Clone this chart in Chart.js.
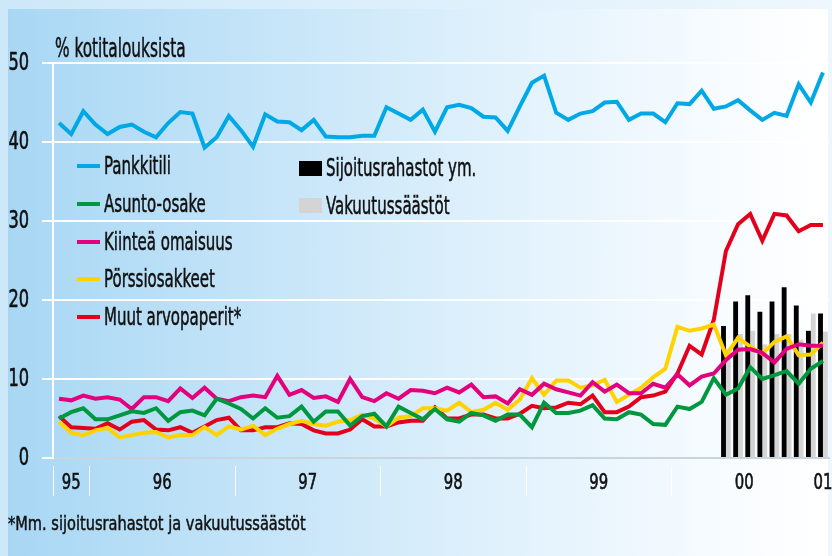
<!DOCTYPE html>
<html lang="fi">
<head>
<meta charset="utf-8">
<title>Kotitalouksien säästämismuodot</title>
<script src="https://cdn.jsdelivr.net/npm/chart.js@4.4.1/dist/chart.umd.min.js"></script>
<style>
  html, body { margin: 0; padding: 0; }
  body {
    width: 832px; height: 556px; position: relative; overflow: hidden;
    background: linear-gradient(to right, #cde8f9, #eef7fd);
    font-family: 'Liberation Sans Narrow', 'DejaVu Sans Condensed', 'Arial Narrow', sans-serif;
    color: #111;
  }
  #panel {
    position: absolute; left: 8px; top: 9px; right: 4px; bottom: 0;
    background: linear-gradient(to right, #a8d7f4 0%, #c4e4f8 30%, #e0f1fc 60%, #f8fcff 88%, #ffffff 100%);
  }
  #chart { position: absolute; left: 0; top: 0; }
  .txt { position: absolute; white-space: nowrap; transform-origin: 0 50%; -webkit-text-stroke: 0.5px #111; }
  #title { left: 55px; top: 33px; font-size: 26px; transform: scaleX(0.655); }
  #note { left: 8px; top: 511px; font-size: 20px; transform: scaleX(0.81); }
  .item { position: absolute; height: 26px; display: flex; align-items: center; white-space: nowrap; }
  .sw { display: inline-block; }
  .lab { display: inline-block; font-size: 24px; transform: scaleX(0.695); transform-origin: 0 50%; -webkit-text-stroke: 0.5px #111; }
</style>
</head>
<body>
<div id="panel"></div>
<canvas id="chart" width="832" height="556"></canvas>
<div id="title" class="txt">% kotitalouksista</div>
<div id="legend"></div>
<div id="note" class="txt">*Mm. sijoitusrahastot ja vakuutussäästöt</div>
<script>
// monthly observations, Oct 1995 - Jan 2001
const months = [];
for (let k = 0; k < 64; k++) {
  const m = 9 + k;
  months.push((1995 + Math.floor(m / 12)) + '-' + String(m % 12 + 1).padStart(2, '0'));
}
const yearLabels = ['95', '96', '97', '98', '99', '00', '01'];
const yTicks = [0, 10, 20, 30, 40, 50];

const pankkitili = [42.4, 41.0, 43.9, 42.2, 41.0, 41.9, 42.2, 41.3, 40.6, 42.4,
  43.8, 43.6, 39.3, 40.6, 43.3, 41.5, 39.4, 43.5, 42.6, 42.5,
  41.5, 42.8, 40.7, 40.6, 40.6, 40.8, 40.8, 44.4, 43.6, 42.8,
  44.1, 41.3, 44.4, 44.7, 44.3, 43.2, 43.1, 41.4, 44.5, 47.5,
  48.4, 43.7, 42.8, 43.6, 43.9, 45.0, 45.1, 42.8, 43.6, 43.6,
  42.5, 44.9, 44.8, 46.5, 44.2, 44.5, 45.3, 44.0, 42.8, 43.7,
  43.3, 47.3, 45.0, 48.8];
const asuntoOsake = [5.0, 5.8, 6.3, 4.9, 4.9, 5.4, 5.9, 5.7, 6.3, 4.7,
  5.8, 6.0, 5.4, 7.5, 6.9, 6.2, 5.0, 6.3, 5.1, 5.3,
  6.5, 4.6, 5.9, 5.9, 4.1, 5.3, 5.6, 4.0, 6.5, 5.7,
  4.9, 6.2, 4.9, 4.6, 5.7, 5.4, 4.7, 5.5, 5.5, 3.9,
  7.0, 5.7, 5.7, 6.0, 6.7, 5.0, 4.9, 5.8, 5.5, 4.3,
  4.2, 6.5, 6.2, 7.1, 10.1, 8.0, 8.8, 11.5, 10.0, 10.5,
  11.0, 9.4, 11.3, 12.3];
const kiinteaOmaisuus = [7.5, 7.3, 7.9, 7.5, 7.7, 7.4, 6.2, 7.7, 7.7, 7.2,
  8.8, 7.6, 8.9, 7.5, 7.2, 7.7, 7.9, 7.7, 10.4, 8.0,
  8.6, 7.6, 7.8, 7.1, 10.0, 7.7, 7.2, 8.2, 7.5, 8.6,
  8.5, 8.2, 8.9, 8.3, 9.3, 7.7, 7.8, 6.9, 8.7, 8.0,
  9.4, 8.7, 8.3, 7.9, 9.6, 8.4, 9.3, 8.2, 8.2, 9.4,
  8.9, 10.6, 9.2, 10.3, 10.7, 12.4, 13.7, 13.8, 13.3, 12.1,
  13.8, 14.4, 14.2, 14.2];
const porssiosakkeet = [4.6, 3.2, 2.9, 3.5, 3.8, 2.6, 2.9, 3.2, 3.3, 2.6,
  2.9, 2.9, 3.9, 2.9, 4.0, 3.6, 4.1, 2.9, 3.7, 4.3,
  4.7, 4.3, 4.1, 4.6, 4.8, 5.5, 5.0, 4.0, 5.1, 5.3,
  6.3, 6.3, 6.0, 7.0, 5.8, 6.1, 7.0, 6.1, 7.4, 10.1,
  8.0, 9.8, 9.8, 8.9, 9.2, 9.9, 7.1, 8.0, 8.9, 10.2,
  11.3, 16.6, 16.1, 16.4, 16.9, 13.0, 15.2, 14.1, 13.2, 14.7,
  15.4, 13.0, 13.1, 14.6];
const muutArvopaperit = [5.3, 3.9, 3.8, 3.7, 4.4, 3.6, 4.6, 4.8, 3.6, 3.5,
  3.9, 3.2, 4.0, 4.8, 5.1, 3.5, 3.5, 3.9, 3.9, 4.4,
  4.3, 3.5, 3.1, 3.1, 3.6, 4.9, 4.0, 4.0, 4.5, 4.7,
  4.7, 6.4, 5.0, 5.0, 5.5, 5.5, 5.0, 5.0, 5.6, 6.6,
  6.3, 6.4, 7.0, 6.8, 7.9, 5.8, 5.8, 6.5, 7.7, 7.9,
  8.4, 10.7, 14.2, 13.1, 17.5, 26.2, 29.6, 30.9, 27.5, 30.9,
  30.7, 28.7, 29.5, 29.5];

// bars start May 2000
const barStart = '2000-05';
const sijoitusrahastot = [16.7, 19.8, 20.6, 18.5, 19.8, 21.6, 19.3, 16.1, 18.3];
const vakuutussaastot = [13.8, 15.7, 16.1, 14.4, 15.7, 15.7, 15.0, 18.3, 16.0];

const FONT = "'Liberation Sans Narrow', 'DejaVu Sans Condensed', 'Arial Narrow', sans-serif";
const first = months.indexOf(barStart);
const padBars = arr => months.map((m, i) => (i < first ? null : arr[i - first]));

function lineSet(label, data, color) {
  return { type: 'line', label, data, borderColor: color, backgroundColor: color,
    borderWidth: 4, pointRadius: 0, tension: 0, borderJoinStyle: 'miter', order: 1 };
}
function barSet(label, data, color) {
  return { type: 'bar', label, data: padBars(data), backgroundColor: color,
    barPercentage: 1, categoryPercentage: 0.8, order: 5 };
}

// narrow, slightly heavy text like the printed original
function condensedText(c, txt, x, y, size, align) {
  c.save();
  c.translate(x, y);
  c.scale(0.75, 1);
  c.fillStyle = '#111';
  c.strokeStyle = '#111';
  c.lineWidth = 0.6;
  c.font = size + 'px ' + FONT;
  c.textAlign = align;
  c.textBaseline = 'middle';
  c.fillText(txt, 0, 0);
  c.strokeText(txt, 0, 0);
  c.restore();
}

// y labels, year separators and year names
const axisText = {
  id: 'axisText',
  afterDraw(chart) {
    const x = chart.scales.x, y = chart.scales.y, c = chart.ctx, top = chart.chartArea.bottom;
    yTicks.forEach(v => condensedText(c, String(v), 29, y.getPixelForValue(v) + 1, 24, 'right'));
    const half = (x.getPixelForValue(1) - x.getPixelForValue(0)) / 2;
    c.save();
    c.strokeStyle = '#ffffff';
    c.lineWidth = 1;
    yearLabels.forEach(yl => {
      const idx = months.map((m, i) => (m.slice(2, 4) === yl ? i : -1)).filter(i => i >= 0);
      const x0 = x.getPixelForValue(idx[0]) - half;
      const x1 = x.getPixelForValue(idx[idx.length - 1]) + half;
      c.beginPath();
      c.moveTo(Math.round(x0) + 0.5, top + 8);
      c.lineTo(Math.round(x0) + 0.5, top + 38);
      c.stroke();
      condensedText(c, yl, (x0 + x1) / 2, top + 25, 22, 'center');
    });
    c.restore();
  }
};

const chart = new Chart(document.getElementById('chart'), {
  type: 'line',
  data: {
    labels: months,
    datasets: [
      lineSet('Pankkitili', pankkitili, '#00a8e6'),
      lineSet('Asunto-osake', asuntoOsake, '#00983f'),
      lineSet('Kiinteä omaisuus', kiinteaOmaisuus, '#e4007d'),
      lineSet('Pörssiosakkeet', porssiosakkeet, '#ffd200'),
      lineSet('Muut arvopaperit*', muutArvopaperit, '#e3001b'),
      barSet('Sijoitusrahastot ym.', sijoitusrahastot, '#000000'),
      barSet('Vakuutussäästöt', vakuutussaastot, '#d4d4d4')
    ]
  },
  options: {
    responsive: false,
    animation: false,
    events: [],
    layout: { padding: { left: 0, right: 3, top: 63, bottom: 58 } },
    plugins: { legend: { display: false }, tooltip: { enabled: false } },
    scales: {
      x: {
        offset: true,
        ticks: { display: false },
        grid: { display: false },
        border: { color: '#c8d5de', width: 2 },
        afterFit: s => { s.height = 40; }
      },
      y: {
        min: 0, max: 50,
        afterBuildTicks: s => { s.ticks = yTicks.map(v => ({ value: v })); },
        ticks: { display: false },
        grid: { color: '#ffffff', lineWidth: 2, tickLength: 11 },
        border: { color: '#ffffff', width: 2 },
        afterFit: s => { s.width = 53; }
      }
    }
  },
  plugins: [axisText]
});

// legend in two columns, built from the datasets
const legend = document.getElementById('legend');
let lineRow = 0, barRow = 0;
chart.data.datasets.forEach(ds => {
  const isBar = ds.type === 'bar';
  const row = isBar ? barRow++ : lineRow++;
  const item = document.createElement('div');
  item.className = 'item';
  item.style.left = (isBar ? 299 : 77) + 'px';
  item.style.top = ((isBar ? 155 : 153) + row * 37.8) + 'px';
  const sw = document.createElement('span');
  sw.className = 'sw';
  sw.style.width = '23px';
  sw.style.height = isBar ? '15px' : '4px';
  sw.style.background = isBar ? ds.backgroundColor : ds.borderColor;
  sw.style.marginRight = '4px';
  const lab = document.createElement('span');
  lab.className = 'lab';
  lab.textContent = ds.label;
  item.appendChild(sw);
  item.appendChild(lab);
  legend.appendChild(item);
});
</script>
</body>
</html>
